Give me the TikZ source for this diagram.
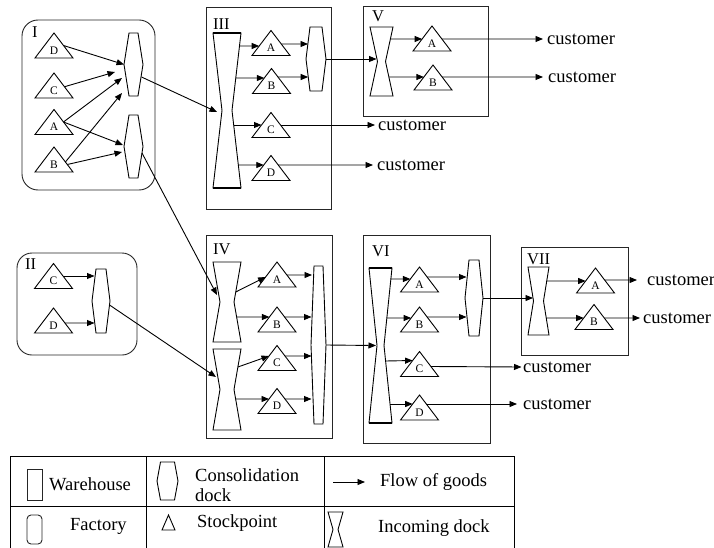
\documentclass[tikz,border=0pt]{standalone}
\usepackage{fontspec}
\setmainfont{Liberation Serif}
\usetikzlibrary{calc,arrows.meta}

\tikzset{
  shp/.style={draw=black, line width=0.9pt, line join=miter},
  flow/.style={draw=black, line width=0.9pt, -{Triangle[length=7.5pt,width=6pt]}},
  hold/.style={rectangle, draw=none, inner sep=0pt, outer sep=0pt},
  stocklbl/.style={font=\fontsize{11.5}{12}\selectfont, inner sep=0pt},
  numlbl/.style={font=\fontsize{16.5}{17}\selectfont, inner sep=0pt, anchor=north west},
  big/.style={font=\fontsize{18.5}{20}\selectfont, inner sep=0pt},
  cust/.style={big, anchor=west},
  wbox/.style={rectangle, draw=black!85, line width=0.9pt, inner sep=0pt, outer sep=0pt},
  fbox/.style={wbox, rounded corners=16pt},
  rim/.style={draw=black, line width=1.4pt},
}

% stockpoint: name, x, y, letter
\newcommand\stockpt[4]{%
  \node[hold, minimum width=38pt, minimum height=25pt] (#1) at (#2,#3) {};
  \draw[shp] (#1.south west) -- (#1.north) -- (#1.south east) -- cycle;
  \node[stocklbl] (#1-l) at ($(#1.south)+(0,-7.5)$) {#4};}

% consolidation dock: name, x, y, width, height, inset
\newcommand\condock[6]{%
  \node[hold, minimum width=#4pt, minimum height=#5pt] (#1) at (#2,#3) {};
  \draw[shp] ($(#1.north west)+(#6,0)$) -- ($(#1.north east)+(-#6,0)$) -- (#1.east)
    -- ($(#1.south east)+(-#6,0)$) -- ($(#1.south west)+(#6,0)$) -- (#1.west) -- cycle;}

% incoming dock: name, x, y, width, height, inset
\newcommand\indock[6]{%
  \node[hold, minimum width=#4pt, minimum height=#5pt] (#1) at (#2,#3) {};
  \draw[shp] (#1.north west) -- (#1.north east) -- ($(#1.east)+(-#6,0)$)
    -- (#1.south east) -- (#1.south west) -- ($(#1.west)+(#6,0)$) -- cycle;}

\begin{document}
\begin{tikzpicture}[x=1pt, y=-1pt]
\useasboundingbox (0,0) rectangle (714,548);

% ---------- factories and warehouses ----------
\node[fbox, minimum width=133pt, minimum height=170pt] (fI) at (88.5,105) {};
\node[numlbl] (fI-l) at ($(fI.north west)+(10,6)$) {I};
\node[fbox, rounded corners=15pt, minimum width=120pt, minimum height=102pt] (fII) at (77,304) {};
\node[numlbl] (fII-l) at ($(fII.north west)+(8,5)$) {II};
\node[wbox, minimum width=125pt, minimum height=202pt] (wIII) at (268.5,108) {};
\node[numlbl] (wIII-l) at ($(wIII.north west)+(7,11)$) {III};
\node[wbox, minimum width=126pt, minimum height=203pt] (wIV) at (269,336.5) {};
\node[numlbl] (wIV-l) at ($(wIV.north west)+(7,8)$) {IV};
\node[wbox, minimum width=125pt, minimum height=110pt] (wV) at (425.5,61) {};
\node[numlbl] (wV-l) at ($(wV.north west)+(9,4.5)$) {V};
\node[wbox, minimum width=127pt, minimum height=208pt] (wVI) at (426.5,339) {};
\node[numlbl] (wVI-l) at ($(wVI.north west)+(9,10)$) {VI};
\node[wbox, minimum width=107pt, minimum height=108pt] (wVII) at (574.5,301) {};
\node[numlbl] (wVII-l) at ($(wVII.north west)+(6,6)$) {VII};

% ---------- factory I ----------
\stockpt{tID}{54}{45.5}{D}
\stockpt{tIC}{54}{85.5}{C}
\stockpt{tIA}{54}{122}{A}
\stockpt{tIB}{54}{159.5}{B}
\condock{kI1}{133.5}{64.5}{19}{63}{5}
\condock{kI2}{133.5}{146.5}{19}{63}{5}
\draw[flow] ($(tID.north)!0.5!(tID.south east)$) -- (kI1.west);
\draw[flow] ($(tIC.north)!0.55!(tIC.south east)$) -- ($(kI1.west)+(-9,7.5)$);
\draw[flow] ($(tIA.north)!0.5!(tIA.south east)$) -- ($(kI1.west)+(-2,13.5)$);
\draw[flow] ($(tIB.north)!0.6!(tIB.south east)$) -- ($(kI1.west)+(-2,28.5)$);
\draw[flow] ($(tIA.north)!0.5!(tIA.south east)$) -- ($(kI2.west)+(-1,-1.5)$);
\draw[flow] ($(tIB.north)!0.7!(tIB.south east)$) -- ($(kI2.west)+(-2,5.5)$);

% ---------- factory II ----------
\stockpt{tIIC}{53.5}{276}{C}
\stockpt{tIID}{53.5}{320.5}{D}
\condock{kII}{101}{301}{18}{64}{4}
\draw[flow] ($(tIIC.north)!0.5!(tIIC.south east)$) -- ($(kII.west)+(2.5,-25)$);
\draw[flow] ($(tIID.north)!0.6!(tIID.south east)$) -- ($(kII.west)+(2.5,22)$);

% ---------- warehouse III ----------
\indock{iIII}{227}{110.5}{28}{155}{9}
\draw[rim] (iIII.north west) -- (iIII.north east);
\draw[rim] (iIII.south west) -- (iIII.south east);
\stockpt{tIIIA}{271}{43}{A}
\stockpt{tIIIB}{271.5}{81}{B}
\stockpt{tIIIC}{271}{125}{C}
\stockpt{tIIID}{271}{168}{D}
\condock{kIII}{316}{59}{20}{64}{4}
\draw[flow] ($(iIII.north east)+(-1.5,13)$) -- ($(tIIIA.north)!0.62!(tIIIA.south west)$);
\draw[flow] ($(iIII.north east)+(-5.2,45)$) -- ($(tIIIB.north)!0.38!(tIIIB.south west)$);
\draw[flow] ($(iIII.east)+(-7.3,14.5)$) -- ($(tIIIC.north)!0.5!(tIIIC.south west)$);
\draw[flow] ($(iIII.east)+(-2.7,54.5)$) -- ($(tIIID.north)!0.38!(tIIID.south west)$);
\draw[flow] ($(tIIIA.north)!0.54!(tIIIA.south east)$) -- ($(kIII.west)+(2,-15)$);
\draw[flow] ($(tIIIB.north)!0.34!(tIIIB.south east)$) -- ($(kIII.west)+(2.2,18)$);

% ---------- warehouse IV ----------
\indock{iIVa}{227}{302}{28}{80}{7}
\indock{iIVb}{227}{389.5}{28}{81}{7}
\stockpt{tIVA}{277}{274.5}{A}
\stockpt{tIVB}{277}{319.5}{B}
\stockpt{tIVC}{277}{358}{C}
\stockpt{tIVD}{277}{401}{D}
\condock{kIV}{318.5}{345}{15}{158}{3}
\draw[flow] ($(iIVa.east)+(-5.25,-10)$) -- ($(tIVA.north)!0.6!(tIVA.south west)$);
\draw[flow] ($(iIVa.east)+(-4.4,15)$) -- ($(tIVB.north)!0.4!(tIVB.south west)$);
\draw[flow] ($(iIVb.east)+(-3.1,-22.5)$) -- ($(tIVC.north)!0.42!(tIVC.south west)$);
\draw[flow] ($(iIVb.east)+(-5.4,9.5)$) -- ($(tIVD.north)!0.42!(tIVD.south west)$);
\draw[flow] ($(tIVA.north)!0.52!(tIVA.south east)$) -- ($(kIV.west)+(1,-70)$);
\draw[flow] ($(tIVB.north)!0.4!(tIVB.south east)$) -- ($(kIV.west)+(0.5,-28)$);
\draw[flow] ($(tIVC.north)!0.42!(tIVC.south east)$) -- ($(kIV.west)+(0.5,11)$);
\draw[flow] ($(tIVD.north)!0.42!(tIVD.south east)$) -- ($(kIV.west)+(0.5,54)$);

% ---------- warehouse V ----------
\indock{iV}{381.5}{61.5}{23}{69}{7.5}
\stockpt{tVA}{432}{38.5}{A}
\stockpt{tVB}{433}{77.5}{B}
\draw[flow] ($(iV.north east)+(-2.6,12)$) -- ($(tVA.north)!0.52!(tVA.south west)$);
\draw[flow] ($(iV.east)+(-4.1,15.5)$) -- ($(tVB.north)!0.48!(tVB.south west)$);

% ---------- warehouse VI ----------
\indock{iVI}{380.5}{345.5}{23}{155}{8}
\draw[rim] (iVI.north west) -- (iVI.north east);
\draw[rim] (iVI.south west) -- (iVI.south east);
\stockpt{tVIA}{419.5}{279.5}{A}
\stockpt{tVIB}{419.5}{319.5}{B}
\stockpt{tVIC}{419.5}{364}{C}
\stockpt{tVID}{419.5}{407.5}{D}
\condock{kVI}{474}{298}{18}{76}{4}
\draw[flow] ($(iVI.north east)+(-1.1,11)$) -- ($(tVIA.north)!0.48!(tVIA.south west)$);
\draw[flow] ($(iVI.north east)+(-5.2,50)$) -- ($(tVIB.north)!0.44!(tVIB.south west)$);
\draw[flow] ($(iVI.east)+(-6.4,15.5)$) -- ($(tVIC.north)!0.36!(tVIC.south west)$);
\draw[flow] ($(iVI.east)+(-2,58.5)$) -- ($(tVID.north)!0.36!(tVID.south west)$);
\draw[flow] ($(tVIA.north)!0.4!(tVIA.south east)$) -- ($(kVI.west)+(1.5,-21)$);
\draw[flow] ($(tVIB.north)!0.4!(tVIB.south east)$) -- ($(kVI.west)+(1.5,19)$);

% ---------- warehouse VII ----------
\indock{iVII}{538.5}{301}{21}{68}{5.5}
\stockpt{tVIIA}{595.5}{280.5}{A}
\stockpt{tVIIB}{594}{317}{B}
\draw[flow] ($(iVII.north east)+(-2.3,14)$) -- ($(tVIIA.north)!0.52!(tVIIA.south west)$);
\draw[flow] ($(iVII.east)+(-2.75,17)$) -- ($(tVIIB.north)!0.54!(tVIIB.south west)$);

% ---------- flows between sites ----------
\draw[flow] ($(kI1.east)+(-1.5,12.5)$) -- ($(iIII.west)+(4,1.5)$);
\draw[flow] ($(kI2.east)+(-1,6.5)$) -- ($(iIVa.west)+(4,-7)$);
\draw[flow] ($(kII.east)+(-0.5,4)$) -- ($(iIVb.west)+(3,-12.5)$);
\draw[flow] (kIII.east) -- ($(iV.west)+(6.5,-2.5)$);
\draw[flow] (kIV.east) -- ($(iVI.west)+(7,0)$);
\draw[flow] (kVI.east) -- ($(iVII.west)+(5,-3)$);

% ---------- customers ----------
\node[cust] (cIIIC) at (378,125) {customer};
\node[cust] (cIIID) at (377,165) {customer};
\node[cust] (cVA) at (547,39) {customer};
\node[cust] (cVB) at (548,77) {customer};
\node[cust] (cVIC) at (523,367) {customer};
\node[cust] (cVID) at (523,404) {customer};
\node[cust] (cVIIA) at (647,280) {customer};
\node[cust] (cVIIB) at (643,318) {customer};
\draw[flow] ($(tIIIC.north)!0.5!(tIIIC.south east)$) -- ($(cIIIC.west)+(-3,0)$);
\draw[flow] ($(tIIID.north)!0.38!(tIIID.south east)$) -- ($(cIIID.west)+(-4,0)$);
\draw[flow] ($(tVA.north)!0.52!(tVA.south east)$) -- ($(cVA.west)+(-4,0)$);
\draw[flow] ($(tVB.north)!0.48!(tVB.south east)$) -- ($(cVB.west)+(-5,0)$);
\draw[flow] ($(tVIC.north)!0.6!(tVIC.south east)$) -- ($(cVIC.west)+(-1.5,0)$);
\draw[flow] ($(tVID.north)!0.36!(tVID.south east)$) -- ($(cVID.west)+(-6,0)$);
\draw[flow] ($(tVIIA.north)!0.48!(tVIIA.south east)$) -- ($(cVIIA.west)+(-10,0)$);
\draw[flow] ($(tVIIB.north)!0.54!(tVIIB.south east)$) -- ($(cVIIB.west)+(-3,0)$);

% ---------- legend ----------
\draw[line width=0.9pt] (10,456) -- (514,456) (10,506) -- (514,506)
  (10,456) -- (10,548) (146,456) -- (146,548) (324,456) -- (324,548) (514,456) -- (514,548);
\node[wbox, minimum width=15pt, minimum height=31pt] (lgW) at (34.5,484.5) {};
\node[big, anchor=west] (lgW-t) at (49,484) {Warehouse};
\condock{lgK}{167.5}{481}{21}{38}{3.5}
\node[big, anchor=west, align=left] (lgK-t) at (195,485) {Consolidation\\dock};
\coordinate (lgA1) at (333,482);
\coordinate (lgA2) at (365,482);
\draw[flow] (lgA1) -- (lgA2);
\node[big, anchor=west] (lgA-t) at (380,482) {Flow of goods};
\node[wbox, rounded corners=4pt, minimum width=15pt, minimum height=29pt] (lgF) at (34.5,529.5) {};
\node[big, anchor=west] (lgF-t) at (70,526) {Factory};
\node[hold, minimum width=13pt, minimum height=15pt] (lgS) at (168.5,522.5) {};
\draw[shp] (lgS.south west) -- (lgS.north) -- (lgS.south east) -- cycle;
\node[big, anchor=west] (lgS-t) at (197,523) {Stockpoint};
\indock{lgI}{335.5}{529.5}{15}{35}{5}
\node[big, anchor=west] (lgI-t) at (378,528) {Incoming dock};
\end{tikzpicture}
\end{document}
